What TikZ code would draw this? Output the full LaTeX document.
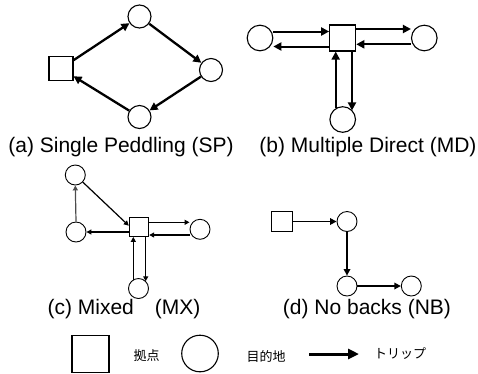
\documentclass[tikz,border=0pt]{standalone}
\usepackage{fontspec}
\setmainfont{Liberation Sans}
\newfontfamily\jpfont{Noto Sans CJK JP}
\usetikzlibrary{arrows.meta}
\begin{document}
\begin{tikzpicture}[x=1pt,y=-1pt,
  sq/.style={draw,rectangle,inner sep=0pt,line width=1.1pt},
  ci/.style={draw,circle,inner sep=0pt,line width=1.1pt},
  thickarr/.style={line width=2.3pt,-{Triangle[length=8pt,width=8pt]}},
  medarr/.style={line width=2pt,-{Triangle[length=8pt,width=8pt]}},
  thinarr/.style={line width=1.2pt,-{Triangle[length=5pt,width=5pt]}},
  darr/.style={line width=1.8pt,-{Triangle[length=6.5pt,width=6.5pt]}},
  lab/.style={anchor=base,inner sep=0pt,font=\fontsize{21pt}{24pt}\selectfont},
  jp/.style={inner sep=0pt,font=\jpfont\fontsize{13pt}{15pt}\selectfont}]
\useasboundingbox (0,0) rectangle (478,373);
% (a)
\node[sq,minimum size=24pt] (aS) at (61,68.5) {};
\node[ci,minimum size=23pt] (aT) at (139.5,16.5) {};
\node[ci,minimum size=23pt] (aR) at (211,70) {};
\node[ci,minimum size=23pt] (aB) at (139.5,117) {};
\draw[thickarr] (aS) -- (aT);
\draw[thickarr] (aT) -- (aR);
\draw[thickarr] (aR) -- (aB);
\draw[thickarr] (aB) -- (aS);
\node[lab] (la) at (121,152) {(a) Single Peddling (SP)};
% (b)
\node[sq,minimum size=26pt] (bS) at (342.7,38) {};
\node[ci,minimum size=25.6pt] (bL) at (260,38) {};
\node[ci,minimum size=25.6pt] (bR) at (424.3,38) {};
\node[ci,minimum size=25.6pt] (bB) at (342.7,119.5) {};
\draw[medarr] ([yshift=6.5pt]bL.east) -- ([yshift=6.5pt]bS.west);
\draw[medarr] ([yshift=-8.5pt]bS.west) -- ([yshift=-8.5pt]bL.east);
\draw[medarr] ([yshift=9pt]bS.east) -- ([yshift=9pt]bR.west);
\draw[medarr] ([yshift=-6.3pt]bR.west) -- ([yshift=-6.3pt]bS.east);
\draw[medarr] ([xshift=-7pt]bS.south |- bB.123) -- ([xshift=-7pt]bS.south);
\draw[medarr] ([xshift=9.3pt]bS.south) -- ([xshift=9.3pt]bS.south |- bB.43);
\node[lab] (lb) at (368,152) {(b) Multiple Direct (MD)};
% (c)
\node[ci,minimum size=20pt,line width=0.9pt] (cT) at (75.3,175) {};
\node[ci,minimum size=20pt,line width=0.9pt] (cL) at (76,232) {};
\node[sq,minimum size=19.5pt,line width=0.9pt] (cS) at (139,226.7) {};
\node[ci,minimum size=20pt,line width=0.9pt] (cR) at (200,229.3) {};
\node[ci,minimum size=20pt,line width=0.9pt] (cB) at (138.5,288.5) {};
\draw[thinarr,black!70] (cL.north) -- (cT.south);
\draw[thinarr] (cT) -- ([yshift=1pt]cS.west);
\draw[thinarr] (cS.west |- cL.east) -- (cL.east);
\draw[thinarr] ([yshift=4.4pt]cS.east) -- ([yshift=4.4pt]cS.east -| cR.west);
\draw[thinarr] ([yshift=-5.7pt]cR.west) -- ([yshift=-5.7pt]cR.west -| cS.east);
\draw[thinarr] ([xshift=-5.7pt]cS.south |- cB.121) -- ([xshift=-5.7pt]cS.south);
\draw[thinarr] ([xshift=6.7pt]cS.south) -- ([xshift=6.7pt]cS.south |- cB.44);
\node[lab] (lc) at (124,314) {(c) Mixed\hspace{21pt}(MX)};
% (d)
\node[sq,minimum size=20.7pt,line width=0.9pt] (dS) at (281.7,221.5) {};
\node[ci,minimum size=20pt,line width=0.9pt] (d1) at (347,221.5) {};
\node[ci,minimum size=20pt,line width=0.9pt] (d2) at (347,286) {};
\node[ci,minimum size=20pt,line width=0.9pt] (d3) at (411.3,286) {};
\draw[darr] (dS.east) -- (d1.west);
\draw[darr] (d1.south) -- (d2.north);
\draw[darr] (d2.east) -- (d3.west);
\node[lab] (ld) at (367,314) {(d) No backs (NB)};
% legend
\node[sq,minimum size=37pt] (gS) at (90.5,354) {};
\node[jp] (gSt) at (146.5,356) {拠点};
\node[ci,minimum size=36.6pt] (gC) at (200,353.5) {};
\node[jp] (gCt) at (266,356) {目的地};
\coordinate (ga) at (309,354);
\coordinate (gb) at (359,354);
\draw[line width=3pt,-{Triangle[length=11pt,width=10pt]}] (ga) -- (gb);
\node[jp] (gTt) at (400,354) {トリップ};
\end{tikzpicture}
\end{document}
